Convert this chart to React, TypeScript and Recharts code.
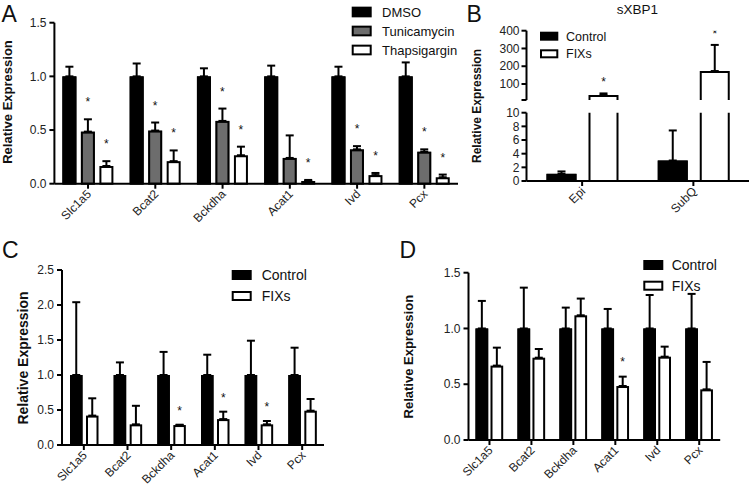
import React from "react";
import { BarChart, Bar, XAxis, YAxis, ErrorBar } from "recharts";

const FONT = '"Liberation Sans", Arial, Helvetica, sans-serif';
const GREY = "#6d6d6d";

const GENES = ["Slc1a5", "Bcat2", "Bckdha", "Acat1", "Ivd", "Pcx"];

// panel A - cell treatments
const A_DMSO = [1, 1, 1, 1, 1, 1];
const A_DMSO_TOP = [1.09, 1.12, 1.075, 1.1, 1.09, 1.13];
const A_DMSO_SIG = [false, false, false, false, false, false];
const A_TUNI = [0.485, 0.495, 0.585, 0.24, 0.32, 0.298];
const A_TUNI_TOP = [0.6, 0.57, 0.7, 0.45, 0.35, 0.32];
const A_TUNI_SIG = [true, true, true, false, true, true];
const A_THAP = [0.165, 0.21, 0.265, 0.025, 0.08, 0.06];
const A_THAP_TOP = [0.21, 0.31, 0.345, 0.035, 0.1, 0.085];
const A_THAP_SIG = [true, true, true, true, true, true];
const A_TICKS = [0, 0.5, 1, 1.5];

// panel B - sXBP1
const B_SITES = ["Epi", "SubQ"];
const B_CTRL = [1.05, 3.0];
const B_CTRL_TOP = [1.4, 7.4];
const B_CTRL_SIG = [false, false];
const B_FIXS = [38, 173];
const B_FIXS_TOP = [47, 320];
const B_FIXS_SIG = [true, true];
const B_UPPER_TICKS = [10, 100, 200, 300, 400];
const B_LOWER_TICKS = [0, 2, 4, 6, 8, 10];

// panel C
const C_CTRL = [1, 1, 1, 1, 1, 1];
const C_CTRL_TOP = [2.04, 1.18, 1.33, 1.29, 1.49, 1.39];
const C_CTRL_SIG = [false, false, false, false, false, false];
const C_FIXS = [0.42, 0.295, 0.285, 0.37, 0.295, 0.49];
const C_FIXS_TOP = [0.667, 0.56, 0.29, 0.476, 0.343, 0.657];
const C_FIXS_SIG = [false, false, true, true, true, false];
const C_TICKS = [0, 0.5, 1, 1.5, 2, 2.5];

// panel D
const D_CTRL = [1, 1, 1, 1, 1, 1];
const D_CTRL_TOP = [1.247, 1.366, 1.187, 1.175, 1.3, 1.31];
const D_CTRL_SIG = [false, false, false, false, false, false];
const D_FIXS = [0.667, 0.738, 1.118, 0.484, 0.747, 0.454];
const D_FIXS_TOP = [0.828, 0.816, 1.268, 0.568, 0.837, 0.7];
const D_FIXS_SIG = [false, false, false, true, false, false];
const D_TICKS = [0, 0.5, 1, 1.5];

type Series = { key: string; vals: number[]; tops: number[]; sig: boolean[] };

function buildRows(cats: string[], series: Series[]) {
  return cats.map((name, i) => {
    const row: Record<string, any> = { name };
    series.forEach((s) => {
      row[s.key] = s.vals[i];
      row[s.key + "Err"] = [0, s.tops[i] - s.vals[i]];
      row[s.key + "Top"] = s.tops[i];
      row[s.key + "Sig"] = s.sig[i];
    });
    return row;
  });
}

const rowsA = buildRows(GENES, [
  { key: "dmso", vals: A_DMSO, tops: A_DMSO_TOP, sig: A_DMSO_SIG },
  { key: "tuni", vals: A_TUNI, tops: A_TUNI_TOP, sig: A_TUNI_SIG },
  { key: "thap", vals: A_THAP, tops: A_THAP_TOP, sig: A_THAP_SIG },
]);
const rowsB = buildRows(B_SITES, [
  { key: "ctrl", vals: B_CTRL, tops: B_CTRL_TOP, sig: B_CTRL_SIG },
  { key: "fixs", vals: B_FIXS, tops: B_FIXS_TOP, sig: B_FIXS_SIG },
]);
const rowsC = buildRows(GENES, [
  { key: "ctrl", vals: C_CTRL, tops: C_CTRL_TOP, sig: C_CTRL_SIG },
  { key: "fixs", vals: C_FIXS, tops: C_FIXS_TOP, sig: C_FIXS_SIG },
]);
const rowsD = buildRows(GENES, [
  { key: "ctrl", vals: D_CTRL, tops: D_CTRL_TOP, sig: D_CTRL_SIG },
  { key: "fixs", vals: D_FIXS, tops: D_FIXS_TOP, sig: D_FIXS_SIG },
]);

// bar with a 2px outline kept inside its band, plus the asterisk above the error bar
function makeShape(key: string, base: number, starGap: number | null, openBottom = false) {
  return (p: any) => {
    const { x, y, width, height, fill, payload } = p;
    if (!width || height == null) return <g />;
    const top = Math.min(y, y + height);
    const h = Math.abs(height);
    const v = payload[key];
    let star = null;
    if (starGap != null && payload[key + "Sig"] && v > base && h > 0) {
      const per = h / (v - base);
      const errY = top - (payload[key + "Top"] - v) * per;
      star = (
        <text x={x + width / 2} y={errY - starGap + 7} textAnchor="middle" fontSize={12} fontFamily={FONT} fill="#111">
          *
        </text>
      );
    }
    const l = x + 1;
    const r = x + width - 1;
    return (
      <g>
        <rect x={x} y={top} width={width} height={h} fill={fill} />
        {openBottom ? (
          <path d={`M${l},${top + h} L${l},${top + 1} L${r},${top + 1} L${r},${top + h}`} fill="none" stroke="#000" strokeWidth={2} />
        ) : (
          <rect x={l} y={top + 1} width={width - 2} height={Math.max(h - 1, 0)} fill="none" stroke="#000" strokeWidth={2} />
        )}
        {star}
      </g>
    );
  };
}

const XTick = (props: any) => {
  const { x, y, payload } = props;
  return (
    <g transform={`translate(${x},${y})`}>
      <text x={4} y={4} transform="rotate(-45 4 4)" textAnchor="end" fontSize={12} fontFamily={FONT} fill="#222">
        {payload.value}
      </text>
    </g>
  );
};

const axisStyle = {
  axisLine: { stroke: "#000", strokeWidth: 2 },
  tickLine: { stroke: "#000", strokeWidth: 2 },
  tickSize: 5,
};
const yTick = { fill: "#222", fontSize: 12, fontFamily: FONT };

function errBar(key: string) {
  return <ErrorBar dataKey={key + "Err"} direction="y" width={4} stroke="#000" strokeWidth={2} />;
}

function PanelA() {
  return (
    <BarChart width={470} height={250} data={rowsA} margin={{ top: 22.7, right: 12, bottom: 6.3, left: 14.4 }} barGap={4.5}>
      <XAxis dataKey="name" height={60} interval={0} tick={<XTick />} tickMargin={2} {...axisStyle} />
      <YAxis width={40} domain={[0, 1.5]} ticks={A_TICKS} interval={0} tickFormatter={(v: number) => v.toFixed(1)} tick={yTick} tickMargin={3} {...axisStyle} />
      <Bar dataKey="dmso" fill="#000" barSize={14} isAnimationActive={false} shape={makeShape("dmso", 0, 20)}>
        {errBar("dmso")}
      </Bar>
      <Bar dataKey="tuni" fill={GREY} barSize={14} isAnimationActive={false} shape={makeShape("tuni", 0, 20)}>
        {errBar("tuni")}
      </Bar>
      <Bar dataKey="thap" fill="#fff" barSize={14} isAnimationActive={false} shape={makeShape("thap", 0, 20)}>
        {errBar("thap")}
      </Bar>
    </BarChart>
  );
}

function PanelBUpper() {
  return (
    <BarChart width={281} height={105} data={rowsB} margin={{ top: 30.7, right: 2, bottom: 5, left: 16.5 }} barGap={12}>
      <XAxis dataKey="name" hide />
      <YAxis
        width={40}
        domain={[10, 400]}
        allowDataOverflow
        ticks={B_UPPER_TICKS}
        interval={0}
        tickFormatter={(v: number) => (v === 10 ? "" : String(v))}
        tick={yTick}
        tickMargin={2}
        {...axisStyle}
      />
      <Bar dataKey="ctrl" fill="#000" barSize={30} isAnimationActive={false} shape={makeShape("ctrl", 10, null, true)} />
      <Bar dataKey="fixs" fill="#fff" barSize={30} isAnimationActive={false} shape={makeShape("fixs", 10, 14, true)}>
        {errBar("fixs")}
      </Bar>
    </BarChart>
  );
}

function PanelBLower() {
  return (
    <BarChart width={281} height={145} data={rowsB} margin={{ top: 7.7, right: 2, bottom: 9, left: 16.5 }} barGap={12}>
      <XAxis dataKey="name" height={60} interval={0} tick={<XTick />} tickMargin={2} {...axisStyle} />
      <YAxis width={40} domain={[0, 10]} allowDataOverflow ticks={B_LOWER_TICKS} interval={0} tick={yTick} tickMargin={2} {...axisStyle} />
      <Bar dataKey="ctrl" fill="#000" barSize={30} isAnimationActive={false} shape={makeShape("ctrl", 0, null)}>
        {errBar("ctrl")}
      </Bar>
      <Bar dataKey="fixs" fill="#fff" barSize={30} isAnimationActive={false} shape={makeShape("fixs", 0, null)} />
    </BarChart>
  );
}

function PanelC() {
  return (
    <BarChart width={380} height={243} data={rowsC} margin={{ top: 20, right: 56, bottom: 3, left: 22 }} barGap={3.5}>
      <XAxis dataKey="name" height={45} interval={0} tick={<XTick />} tickMargin={2} {...axisStyle} />
      <YAxis width={40} domain={[0, 2.5]} ticks={C_TICKS} interval={0} tickFormatter={(v: number) => v.toFixed(1)} tick={yTick} tickMargin={3} {...axisStyle} />
      <Bar dataKey="ctrl" fill="#000" barSize={12.5} isAnimationActive={false} shape={makeShape("ctrl", 0, 17)}>
        {errBar("ctrl")}
      </Bar>
      <Bar dataKey="fixs" fill="#fff" barSize={12.5} isAnimationActive={false} shape={makeShape("fixs", 0, 17)}>
        {errBar("fixs")}
      </Bar>
    </BarChart>
  );
}

function PanelD() {
  return (
    <BarChart width={371} height={243} data={rowsD} margin={{ top: 22.7, right: 30.8, bottom: 8, left: 48.5 }} barGap={2.3}>
      <XAxis dataKey="name" height={45} interval={0} tick={<XTick />} tickMargin={2} {...axisStyle} />
      <YAxis width={40} domain={[0, 1.5]} ticks={D_TICKS} interval={0} tickFormatter={(v: number) => v.toFixed(1)} tick={yTick} tickMargin={3} {...axisStyle} />
      <Bar dataKey="ctrl" fill="#000" barSize={12.7} isAnimationActive={false} shape={makeShape("ctrl", 0, 18)}>
        {errBar("ctrl")}
      </Bar>
      <Bar dataKey="fixs" fill="#fff" barSize={12.7} isAnimationActive={false} shape={makeShape("fixs", 0, 18)}>
        {errBar("fixs")}
      </Bar>
    </BarChart>
  );
}

function LegendBox({ x, y, w, h, items, textX, fontSize }: any) {
  return (
    <g>
      {items.map((it: any, i: number) => (
        <g key={it.label}>
          <rect x={x + 1} y={y[i] - h / 2 + 1} width={w - 2} height={h - 2} fill={it.fill} stroke="#000" strokeWidth={2} />
          <text x={textX} y={y[i] + fontSize * 0.36} fontSize={fontSize} fontFamily={FONT} fill="#111">
            {it.label}
          </text>
        </g>
      ))}
    </g>
  );
}

function YLabel({ x, y, size, text }: any) {
  return (
    <text transform={`translate(${x},${y}) rotate(-90)`} textAnchor="middle" dominantBaseline="central" fontSize={size} fontWeight="bold" fontFamily={FONT} fill="#111">
      {text}
    </text>
  );
}

export default function App() {
  const letter = { fontSize: 23, fontFamily: FONT, fill: "#111" };
  return (
    <div style={{ position: "absolute", left: 0, top: 0, width: 751, height: 493, background: "#fff", overflow: "hidden" }}>
      <div style={{ position: "absolute", left: 0, top: 0 }}>
        <PanelA />
      </div>
      <div style={{ position: "absolute", left: 470, top: 0 }}>
        <PanelBUpper />
      </div>
      <div style={{ position: "absolute", left: 470, top: 105 }}>
        <PanelBLower />
      </div>
      <div style={{ position: "absolute", left: 0, top: 250 }}>
        <PanelC />
      </div>
      <div style={{ position: "absolute", left: 380, top: 250 }}>
        <PanelD />
      </div>
      <svg width={751} height={493} style={{ position: "absolute", left: 0, top: 0, pointerEvents: "none" }}>
        <text x={1.5} y={21.7} {...letter}>A</text>
        <text x={466.5} y={21.7} {...letter}>B</text>
        <text x={2} y={258} {...letter}>C</text>
        <text x={399.5} y={258} {...letter}>D</text>
        <text x={637.5} y={13.5} textAnchor="middle" fontSize={13.5} fontFamily={FONT} fill="#111">sXBP1</text>

        <YLabel x={7.5} y={102} size={13} text="Relative Expression" />
        <YLabel x={476.7} y={106} size={12} text="Relative Expression" />
        <YLabel x={23} y={358} size={14} text="Relative Expression" />
        <YLabel x={408.3} y={356.7} size={13} text="Relative Expression" />

        <LegendBox
          x={351.7}
          y={[12, 31, 50]}
          w={20}
          h={10.7}
          textX={382}
          fontSize={13}
          items={[
            { label: "DMSO", fill: "#000" },
            { label: "Tunicamycin", fill: GREY },
            { label: "Thapsigargin", fill: "#fff" },
          ]}
        />
        <LegendBox
          x={540}
          y={[36.2, 53.8]}
          w={18.3}
          h={9}
          textX={566}
          fontSize={12.5}
          items={[
            { label: "Control", fill: "#000" },
            { label: "FIXs", fill: "#fff" },
          ]}
        />
        <LegendBox
          x={231.7}
          y={[275, 296]}
          w={20}
          h={10}
          textX={261.7}
          fontSize={14}
          items={[
            { label: "Control", fill: "#000" },
            { label: "FIXs", fill: "#fff" },
          ]}
        />
        <LegendBox
          x={643.3}
          y={[265, 285.7]}
          w={20}
          h={10}
          textX={671.7}
          fontSize={14}
          items={[
            { label: "Control", fill: "#000" },
            { label: "FIXs", fill: "#fff" },
          ]}
        />
      </svg>
    </div>
  );
}
